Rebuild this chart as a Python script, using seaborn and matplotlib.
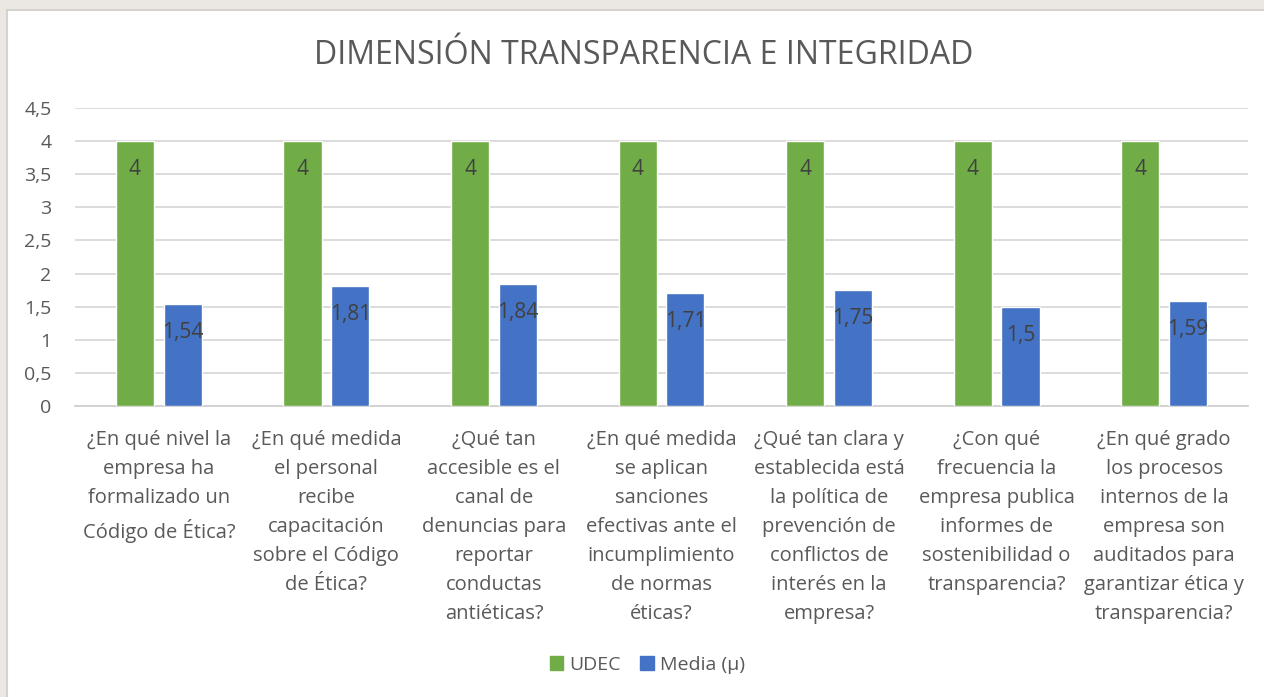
import pandas as pd
import seaborn as sns
import matplotlib.pyplot as plt
from matplotlib.patches import Rectangle

# Datos del grafico
preguntas = [
    "¿En qué nivel la\nempresa ha\nformalizado un\nCódigo de Ética?",
    "¿En qué medida\nel personal\nrecibe\ncapacitación\nsobre el Código\nde Ética?",
    "¿Qué tan\naccesible es el\ncanal de\ndenuncias para\nreportar\nconductas\nantiéticas?",
    "¿En qué medida\nse aplican\nsanciones\nefectivas ante el\nincumplimiento\nde normas\néticas?",
    "¿Qué tan clara y\nestablecida está\nla política de\nprevención de\nconflictos de\ninterés en la\nempresa?",
    "¿Con qué\nfrecuencia la\nempresa publica\ninformes de\nsostenibilidad o\ntransparencia?",
    "¿En qué grado\nlos procesos\ninternos de la\nempresa son\nauditados para\ngarantizar ética y\ntransparencia?",
]
udec = [4, 4, 4, 4, 4, 4, 4]
media = [1.54, 1.81, 1.84, 1.71, 1.75, 1.5, 1.59]
series = ["UDEC", "Media (µ)"]
colores = ["#70AD47", "#4472C4"]
y_ticks = [0, 0.5, 1, 1.5, 2, 2.5, 3, 3.5, 4, 4.5]

df = pd.DataFrame({
    "Pregunta": preguntas * 2,
    "Serie": [series[0]] * len(udec) + [series[1]] * len(media),
    "Valor": udec + media,
})

sns.set_style("white")
plt.rcParams["font.family"] = ["Open Sans", "DejaVu Sans"]
gris = "#595959"

fig = plt.figure(figsize=(12.64, 6.97), dpi=100, facecolor="#ebe8e3")
# Fondo blanco del area del grafico
fig.patches.append(Rectangle((7 / 1264, -0.01), 1, 1.01 - 10 / 697, transform=fig.transFigure,
                             facecolor="white", edgecolor="#d6d3ce", linewidth=1.5, zorder=-10))

ax = fig.add_axes([75 / 1264, 1 - 406 / 697, (1248 - 75) / 1264, (406 - 108) / 697])
ax.set_facecolor("none")
ax.set_zorder(2)

sns.barplot(data=df, x="Pregunta", y="Valor", hue="Serie", palette=colores,
            width=0.57, gap=0.2, saturation=1, ax=ax, zorder=3)

# Etiquetas de datos
for cont, vals in zip(ax.containers, [udec, media]):
    for barra, v in zip(cont, vals):
        texto = f"{v:g}".replace(".", ",")
        ax.text(barra.get_x() + barra.get_width() / 2, v - 0.43, texto,
                ha="center", va="center", fontsize=15, color="#404040", zorder=4)

ax.set_ylim(0, 4.5)
ax.set_yticks(y_ticks)
ax.set_yticklabels([f"{t:g}".replace(".", ",") for t in y_ticks], fontsize=14, color=gris)
ax.yaxis.grid(True, color="#d9d9d9", linewidth=1.3, zorder=0)
ax.set_axisbelow(True)
for s in ["top", "right", "left"]:
    ax.spines[s].set_visible(False)
ax.spines["bottom"].set_color("#d0d0d0")
ax.spines["bottom"].set_linewidth(1.3)
ax.tick_params(axis="y", length=0, pad=17)
ax.tick_params(axis="x", length=0, pad=17)
ax.set_xticks(range(len(preguntas)))
ax.set_xticklabels(preguntas, fontsize=14.5, color=gris, linespacing=1.6)
ax.set_xlabel("")
ax.set_ylabel("")

fig.text(0.509, 1 - 55 / 697, "DIMENSIÓN TRANSPARENCIA E INTEGRIDAD", ha="center", va="center",
         fontsize=23, color=gris)

ax.legend_.remove()
handles = [Rectangle((0, 0), 1, 1, color=c) for c in colores]
fig.legend(handles, series, loc="center", bbox_to_anchor=(0.512, 1 - 665 / 697), ncol=2,
           frameon=False, fontsize=14, labelcolor=gris, handlelength=0.7, handleheight=0.7,
           handletextpad=0.3, columnspacing=1.0)

plt.savefig("out.png", dpi=100, facecolor=fig.get_facecolor())
